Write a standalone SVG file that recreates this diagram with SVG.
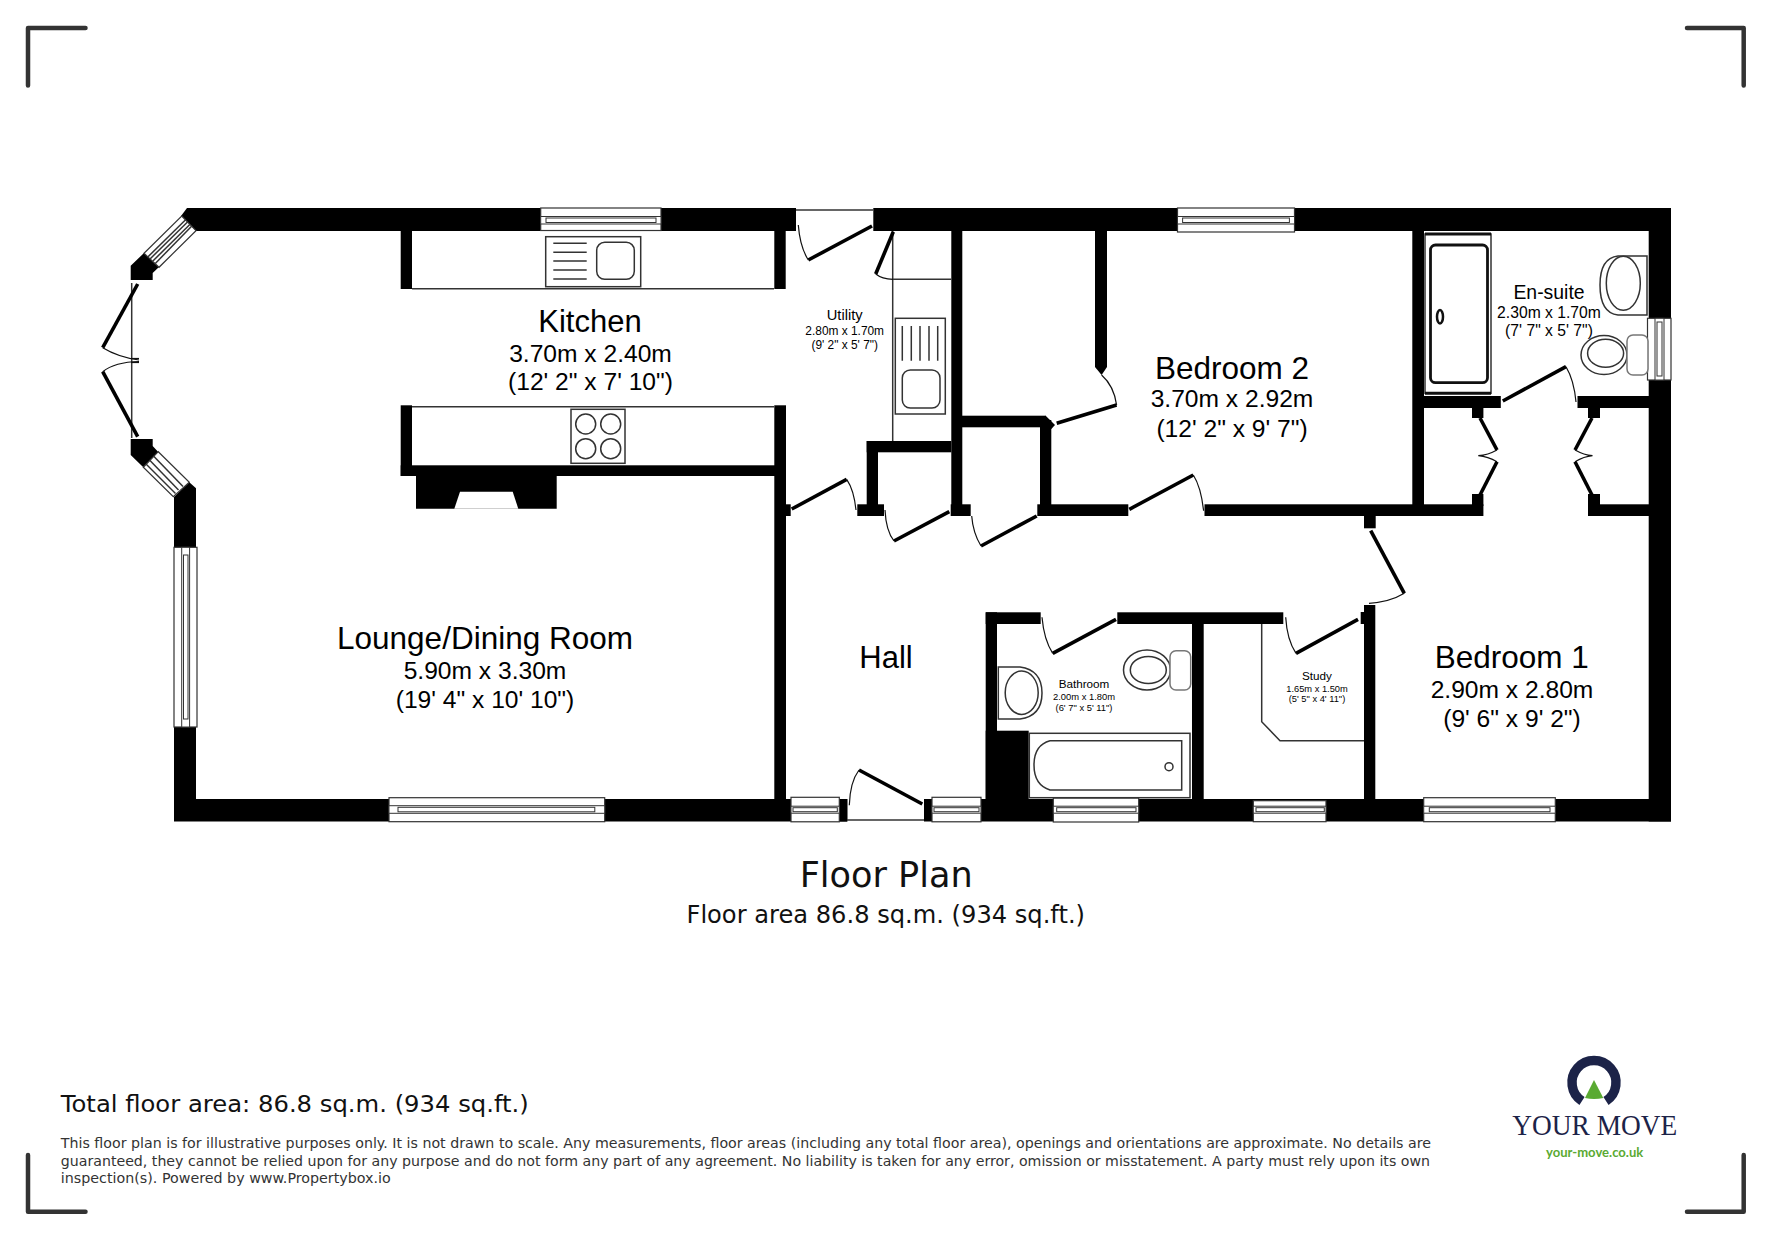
<svg xmlns="http://www.w3.org/2000/svg" width="1771" height="1239" viewBox="0 0 1771 1239">
<style>
.w{fill:#000}
.win{fill:#fff;stroke:#333;stroke-width:1.200}
.in{fill:#fff;stroke:#333;stroke-width:1}
.t{fill:none;stroke:#333;stroke-width:1.500}
.fix{fill:#fff;stroke:#333;stroke-width:1.500}
.leaf{fill:none;stroke:#000;stroke-width:3.600}
.arc{fill:none;stroke:#111;stroke-width:1.200}
.l{font-family:"Liberation Sans",Arial,sans-serif;fill:#000;text-anchor:middle}
.d{font-family:"DejaVu Sans",Verdana,sans-serif;fill:#111}
.crop{fill:none;stroke:#333;stroke-width:4.500;stroke-linecap:round;stroke-linejoin:round}
</style>
<rect width="1771" height="1239" fill="#fff"/>
<g id="crop-marks" class="crop">
<path d="M28,85.500V28H85.500"/><path d="M1687,28H1743.700V85.500"/><path d="M28,1155V1211.700H85.500"/><path d="M1687,1211.700H1743.700V1155"/>
</g>
<g id="walls" class="w">
<rect x="187" y="208" width="609" height="23"/>
<rect x="873.300" y="208" width="797.700" height="23"/>
<rect x="1648.700" y="208" width="22.300" height="613.500"/>
<rect x="174" y="799" width="673.300" height="22.500"/>
<rect x="924" y="799" width="747" height="22.500"/>
<polygon points="187,208 196,231 187,231 181,216"/>
<polygon points="144,253 130.700,265.700 130.700,280 152.700,280 152.700,273 159,267"/>
<polygon points="130.700,439 152.700,439 152.700,446 158,451.700 143.300,467.300 130.700,455"/>
<polygon points="189.300,482.300 196,488.300 196,799 174,799 174,497"/>
<rect x="400.700" y="231" width="11.300" height="58"/>
<rect x="774.300" y="231" width="11.400" height="58"/>
<rect x="774.300" y="405.300" width="11.700" height="400"/>
<rect x="400.700" y="405.300" width="11.300" height="70.700"/>
<rect x="400.700" y="465.300" width="375" height="10.700"/>
<polygon points="416,476 556.700,476 556.700,508.700 416,508.700"/>
<polygon points="460,491.700 512.700,491.700 518.300,508.700 454.300,508.700" fill="#fff"/>
<rect x="785" y="504.300" width="5.700" height="11.700"/>
<rect x="866.700" y="441" width="84.600" height="11.300"/>
<rect x="866.700" y="441" width="11.300" height="66"/>
<rect x="857.300" y="504.300" width="26.700" height="11.700"/>
<rect x="951.300" y="231" width="11" height="280"/>
<rect x="950.700" y="504.300" width="20" height="11.700"/>
<rect x="962" y="415.700" width="84" height="11.600"/>
<polygon points="1045.700,415.700 1055,425 1051.300,429 1040,427.300"/>
<rect x="1040" y="420" width="11.300" height="90"/>
<rect x="1037.300" y="504.300" width="91" height="11.700"/>
<rect x="1204.500" y="504.300" width="278.900" height="11.700"/>
<rect x="1588" y="504.300" width="61" height="11.700"/>
<polygon points="1095,231 1107,231 1107,367 1101.600,375 1095,367"/>
<rect x="1412.300" y="231" width="11.700" height="280"/>
<rect x="1424" y="396" width="76.800" height="12"/>
<rect x="1577.500" y="396" width="71.500" height="12"/>
<rect x="1472" y="408" width="11.400" height="10"/>
<rect x="1588" y="408" width="12" height="10"/>
<rect x="1472" y="494" width="11.400" height="12"/>
<rect x="1588" y="494" width="12" height="12"/>
<rect x="1364" y="516" width="11.700" height="12.300"/>
<rect x="1364" y="605" width="11.300" height="194"/>
<rect x="1360.700" y="612" width="4" height="12"/>
<rect x="985.700" y="612.300" width="55" height="11.700"/>
<rect x="1117.300" y="612.300" width="166" height="11.700"/>
<rect x="985.700" y="612.300" width="11.300" height="187"/>
<rect x="985.700" y="730.700" width="43" height="70"/>
<rect x="1192" y="620" width="11.700" height="180"/>
<rect x="839.300" y="799" width="8" height="22.500"/>
</g>
<g id="thin-lines" class="t">
<path d="M412,288.700H774"/><path d="M412,406.700H774"/>
<path d="M796,210H873.300"/>
<path d="M892.700,231V441"/><path d="M893,279.300H951.300"/>
<path d="M1261.700,624V721.700L1280,740.700H1364"/>
<path d="M847,820H924"/>
</g>
<g id="windows">
<g id="window-kitchen"><rect class="win" x="540.700" y="208" width="120.300" height="22.500"/><rect class="in" x="540.700" y="216.500" width="120.300" height="7.500"/><rect class="in" x="546" y="218" width="110" height="4.500"/></g>
<g id="window-bedroom-2"><rect class="win" x="1177.500" y="208" width="117" height="24"/><rect class="in" x="1177.500" y="216.500" width="117" height="7.500"/><rect class="in" x="1182.600" y="218" width="106.800" height="4.500"/></g>
<g id="window-lounge-south"><rect class="win" x="389" y="797.700" width="215.700" height="24"/><rect class="in" x="389" y="805.700" width="215.700" height="7.600"/><rect class="in" x="398" y="807.300" width="196.800" height="4.500"/></g>
<g id="window-hall-1"><rect class="win" x="791" y="797.300" width="48.300" height="24.500"/><rect class="in" x="791" y="806.200" width="48.300" height="7"/><rect class="in" x="793" y="807.700" width="44.300" height="4"/></g>
<g id="window-hall-2"><rect class="win" x="932" y="797.300" width="49" height="24.500"/><rect class="in" x="932" y="806.200" width="49" height="7"/><rect class="in" x="934" y="807.700" width="45" height="4"/></g>
<g id="window-bathroom"><rect class="win" x="1053.300" y="798" width="85.400" height="24"/><rect class="in" x="1053.300" y="806.200" width="85.400" height="7"/><rect class="in" x="1056.700" y="807.700" width="79.300" height="4"/></g>
<g id="window-study"><rect class="win" x="1253.300" y="800.700" width="72.700" height="21"/><rect class="in" x="1253.300" y="806.200" width="72.700" height="7"/><rect class="in" x="1256" y="807.700" width="68.300" height="4"/></g>
<g id="window-bedroom-1"><rect class="win" x="1423.700" y="797.700" width="131.600" height="24"/><rect class="in" x="1423.700" y="806.200" width="131.600" height="7"/><rect class="in" x="1429.300" y="807.700" width="120.700" height="4"/></g>
<g id="window-lounge-west"><rect class="win" x="174" y="547.300" width="23" height="179.700"/><rect class="in" x="181.700" y="547.300" width="7.900" height="179.700"/><rect class="in" x="183.500" y="555" width="4.500" height="164"/></g>
<g id="window-ensuite"><rect class="win" x="1647.500" y="318.300" width="23.500" height="61.700"/><rect class="in" x="1655" y="318.300" width="9" height="61.700"/><rect class="in" x="1657" y="322" width="5" height="54"/></g>
<g id="window-bay-nw"><polygon class="win" points="181.700,216 196,230.700 159,267.300 144,253.300"/><path class="t" d="M185.600,219.800L147.800,257"/><path class="t" d="M191.600,226.200L155.300,263.500"/><path class="t" stroke-width="1" d="M187.500,222L150,259"/><path class="t" stroke-width="1" d="M189.800,224.500L152.900,261"/></g>
<g id="window-bay-sw"><polygon class="win" points="158.300,451.700 189.300,482.300 173.300,496.700 143.300,467.300"/><path class="t" d="M153.500,456L183,486.500"/><path class="t" d="M149.500,460L178.500,490"/><path class="t" d="M146,464L175.500,493.500"/></g>
</g>
<g id="doors">
<path class="t" d="M131.700,283V438"/>
<path class="leaf" d="M137.700,284L102.700,347.700"/><path class="arc" d="M102.700,347.700Q118,357 139,360"/><path class="arc" d="M131,358.500H139"/>
<path class="leaf" d="M102.700,371.700L137.700,436.700"/><path class="arc" d="M102.700,371.700Q115,362 139,361.500"/><path class="arc" d="M131,362.500H139"/>
<path class="leaf" d="M872,226L808.300,260"/><path class="arc" d="M798.300,225Q800,247 808.300,260"/>
<path class="leaf" d="M893.300,231.700L875.700,274"/><path class="arc" d="M875.700,274Q882,279 893,279.300"/>
<path class="leaf" d="M791.700,509L846.700,479.300"/><path class="arc" d="M846.700,479.300Q854,490 856,510"/>
<path class="leaf" d="M949.300,511.700L894,541"/><path class="arc" d="M885,510Q886,531 894,541"/>
<path class="leaf" d="M1036.700,516L981,546"/><path class="arc" d="M971.700,516Q973,533 981,546"/>
<path class="leaf" d="M1056.700,423.300L1116.600,405"/><path class="arc" d="M1101.600,375Q1114,386 1116.600,405"/>
<path class="leaf" d="M1129.300,509.300L1193.300,475"/><path class="arc" d="M1193.300,475Q1201,487 1203.600,510.700"/>
<path class="leaf" d="M1502.800,401L1566,366.700"/><path class="arc" d="M1566,366.700Q1574,380 1576,402"/>
<path class="leaf" d="M1480,418L1497,450"/><path class="arc" d="M1497,450Q1488,455 1478.300,455.700Q1488,456.500 1497,461.700"/><path class="leaf" d="M1497,461.700L1480,495"/>
<path class="leaf" d="M1592,418L1575,450"/><path class="arc" d="M1575,450Q1584,455 1592.500,455.700Q1584,456.500 1575,461.700"/><path class="leaf" d="M1575,461.700L1592,495"/>
<path class="leaf" d="M1370.700,530.700L1404.300,593.300"/><path class="arc" d="M1404.300,593.300Q1390,602 1369,603.300"/>
<path class="leaf" d="M1358,619.300L1296,653.300"/><path class="arc" d="M1285.700,617.300Q1287,640 1296,653.300"/>
<path class="leaf" d="M1116,619.300L1052.700,653.300"/><path class="arc" d="M1042,617.300Q1044,640 1052.700,653.300"/>
<path class="leaf" d="M922.300,804L859,770"/><path class="arc" d="M859,770Q850,782 849.300,805.300"/>
</g>
<g id="kitchen-fittings">
<g id="sink-kitchen"><rect class="fix" x="545.700" y="236.700" width="95" height="50"/><rect class="fix" x="596.700" y="242.300" width="37.600" height="37" rx="8"/><path class="t" d="M553.300,243.300H586.700M553.300,252.300H586.700M553.300,261H586.700M553.300,270H586.700M553.300,279H586.700"/></g>
<g id="hob"><rect class="fix" x="571" y="409.300" width="54" height="54"/><circle class="t" cx="585.700" cy="424" r="10"/><circle class="t" cx="610.700" cy="424" r="10"/><circle class="t" cx="585.700" cy="448.700" r="10"/><circle class="t" cx="610.700" cy="448.700" r="10"/></g>
<g id="sink-utility"><rect class="fix" x="895.300" y="318.300" width="50" height="95.700"/><rect class="fix" x="902.300" y="370" width="37.700" height="38" rx="8"/><path class="t" d="M902.300,326V360.700M911.300,326V360.700M920,326V360.700M929,326V360.700M937.700,326V360.700"/></g>
</g>
<g id="ensuite-fittings">
<rect class="fix" x="1425" y="234" width="66" height="159.300"/><path d="M1425,234H1491M1425,393.300H1491" stroke="#111" stroke-width="3" fill="none"/>
<rect x="1430.500" y="245" width="57" height="137.700" rx="5" fill="#fff" stroke="#111" stroke-width="2.800"/>
<ellipse cx="1440" cy="316.700" rx="3" ry="6.700" fill="none" stroke="#111" stroke-width="2.500"/>
<path class="fix" d="M1647,256H1618Q1600,258 1600,285Q1600,313 1618,315H1647Z"/><ellipse class="t" cx="1623.300" cy="283.300" rx="17" ry="27"/>
<ellipse class="fix" cx="1604" cy="355" rx="23" ry="19.500"/><ellipse class="t" cx="1605.600" cy="353.300" rx="18" ry="14"/><rect class="fix" x="1627" y="335" width="21" height="40" rx="6" style="stroke:#777"/>
</g>
<g id="bathroom-fittings">
<rect class="fix" x="1029.300" y="733.300" width="160.700" height="64.400"/>
<path class="fix" d="M1050,740.700H1181.700V790H1050Q1034,785 1034,765Q1034,745 1050,740.700Z"/>
<circle class="t" cx="1169" cy="766.700" r="4" stroke-width="2"/>
<path class="fix" d="M998.300,667H1020Q1042,670 1042,693Q1042,716 1020,719H998.300Z"/><ellipse class="t" cx="1021.700" cy="692.700" rx="16.500" ry="21.700"/>
<ellipse class="fix" cx="1147" cy="670" rx="23.500" ry="20"/><ellipse class="t" cx="1148.300" cy="670" rx="18" ry="13.500"/><rect class="fix" x="1170" y="650.700" width="20.700" height="39.300" rx="6" style="stroke:#777"/>
</g>
<g id="label-kitchen" class="l"><text x="590" y="332.300" font-size="31">Kitchen</text><text x="590.500" y="361.700" font-size="24.600">3.70m x 2.40m</text><text x="590.500" y="390" font-size="24.600">(12' 2" x 7' 10")</text></g>
<g id="label-utility" class="l"><text x="844.700" y="320" font-size="14.700">Utility</text><text x="844.700" y="335" font-size="11.900">2.80m x 1.70m</text><text x="844.700" y="349.300" font-size="11.900">(9' 2" x 5' 7")</text></g>
<g id="label-bedroom-2" class="l"><text x="1232" y="379.300" font-size="31.500">Bedroom 2</text><text x="1232" y="407.300" font-size="24.600">3.70m x 2.92m</text><text x="1232" y="436.700" font-size="24.600">(12' 2" x 9' 7")</text></g>
<g id="label-ensuite" class="l"><text x="1549" y="299" font-size="19.400">En-suite</text><text x="1549" y="318.300" font-size="15.700">2.30m x 1.70m</text><text x="1549" y="335.700" font-size="15.700">(7' 7" x 5' 7")</text></g>
<g id="label-lounge" class="l"><text x="485" y="648.700" font-size="31.500">Lounge/Dining Room</text><text x="485" y="679" font-size="24.600">5.90m x 3.30m</text><text x="485" y="707.700" font-size="24.600">(19' 4" x 10' 10")</text></g>
<g id="label-hall" class="l"><text x="886" y="668.300" font-size="31">Hall</text></g>
<g id="label-bathroom" class="l"><text x="1084" y="688.300" font-size="11.700">Bathroom</text><text x="1084" y="700" font-size="9.400">2.00m x 1.80m</text><text x="1084" y="711" font-size="9.400">(6' 7" x 5' 11")</text></g>
<g id="label-study" class="l"><text x="1317" y="680" font-size="11.700">Study</text><text x="1317" y="692" font-size="9.300">1.65m x 1.50m</text><text x="1317" y="702.300" font-size="9.300">(5' 5" x 4' 11")</text></g>
<g id="label-bedroom-1" class="l"><text x="1511.700" y="668.300" font-size="31.500">Bedroom 1</text><text x="1512" y="698.300" font-size="24.600">2.90m x 2.80m</text><text x="1512" y="727.300" font-size="24.600">(9' 6" x 9' 2")</text></g>
<g id="titles" class="d">
<text x="799.700" y="886.700" font-size="35" textLength="173" lengthAdjust="spacingAndGlyphs">Floor Plan</text>
<text x="686.500" y="922.700" font-size="24.500" textLength="398.500" lengthAdjust="spacingAndGlyphs">Floor area 86.8 sq.m. (934 sq.ft.)</text>
<text x="60.800" y="1112" font-size="22.400" textLength="468" lengthAdjust="spacingAndGlyphs">Total floor area: 86.8 sq.m. (934 sq.ft.)</text>
</g>
<g id="disclaimer" class="d" font-size="14.400" style="fill:#333">
<text x="60.800" y="1148.300" textLength="1370.200" lengthAdjust="spacingAndGlyphs">This floor plan is for illustrative purposes only. It is not drawn to scale. Any measurements, floor areas (including any total floor area), openings and orientations are approximate. No details are</text>
<text x="60.800" y="1165.700" textLength="1369.200" lengthAdjust="spacingAndGlyphs">guaranteed, they cannot be relied upon for any purpose and do not form any part of any agreement. No liability is taken for any error, omission or misstatement. A party must rely upon its own</text>
<text x="60.800" y="1182.700" textLength="330" lengthAdjust="spacingAndGlyphs">inspection(s). Powered by www.Propertybox.io</text>
</g>
<g id="logo">
<path d="M1582,1101A22,22 0 1 1 1606,1101" fill="none" stroke="#1c2348" stroke-width="9.500"/>
<path d="M1594,1080L1603.300,1098Q1594,1100 1585,1098Z" fill="#5aaa32"/>
<text x="1512.300" y="1134.700" font-family="'Liberation Serif',serif" font-size="30" fill="#1c2348" textLength="165" lengthAdjust="spacingAndGlyphs">YOUR MOVE</text>
<text x="1546" y="1156.700" font-family="Lato,'Liberation Sans',sans-serif" font-weight="700" font-size="13" fill="#5aaa32" textLength="97.300" lengthAdjust="spacingAndGlyphs">your-move.co.uk</text>
</g>
</svg>
